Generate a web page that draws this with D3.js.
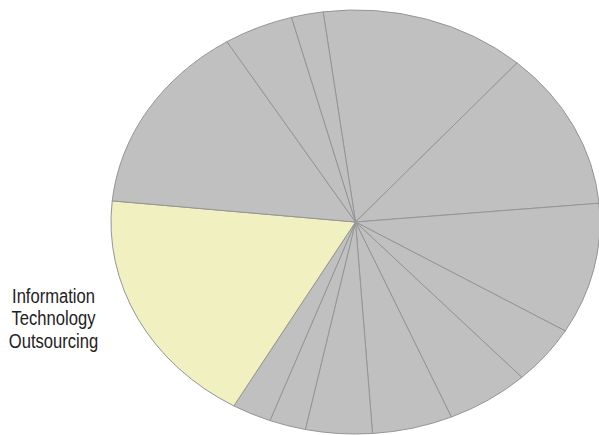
<!DOCTYPE html>
<html>
<head>
<meta charset="utf-8">
<script src="https://cdn.jsdelivr.net/npm/d3@7"></script>
<style>
  html, body { margin: 0; padding: 0; background: #fff; }
  svg { display: block; }
  .label { font-family: "Liberation Sans", Arial, sans-serif; font-size: 21px; fill: #222; }
</style>
</head>
<body>
<script>
// Service categories and their shares (percent), clockwise from the top
const categories = [
  "Segment A", "Segment B", "Segment C", "Segment D", "Segment E",
  "Segment F", "Segment G", "Segment H", "Segment I",
  "Information Technology Outsourcing",
  "Segment K", "Segment L", "Segment M"
];
const shares = [13.6, 12.1, 10.0, 4.5, 5.5, 5.3, 4.4, 2.4, 2.6, 18.3, 14.6, 4.6, 2.1];
const highlighted = "Information Technology Outsourcing";
const labelLines = ["Information", "Technology", "Outsourcing"];

const width = 599, height = 435;
const cx = 355.5, cy = 222;
const rx = 244.5, ry = 212;

const svg = d3.select("body").append("svg")
  .attr("width", width).attr("height", height);

const data = categories.map((c, i) => ({ category: c, value: shares[i] }));

const pie = d3.pie()
  .sort(null)
  .value(d => d.value)
  .startAngle(-7.6 * Math.PI / 180)
  .endAngle((360 - 7.6) * Math.PI / 180);

const arc = d3.arc().innerRadius(0).outerRadius(ry);

// Pie stretched horizontally into an ellipse
const g = svg.append("g")
  .attr("transform", `translate(${cx},${cy}) scale(${rx / ry},1)`);

g.selectAll("path")
  .data(pie(data))
  .join("path")
  .attr("d", arc)
  .attr("fill", d => d.data.category === highlighted ? "#f0f0c0" : "#c0c0c0")
  .attr("stroke", "#959595")
  .attr("stroke-width", 1)
  .attr("vector-effect", "non-scaling-stroke");

// Label for the highlighted slice, set in a condensed face
const condense = 0.79;
const labelX = 53.5;
const label = svg.append("g")
  .attr("transform", `translate(${labelX},302.5) scale(${condense},1)`)
  .append("text")
  .attr("class", "label")
  .attr("text-anchor", "middle");

label.selectAll("tspan")
  .data(labelLines)
  .join("tspan")
  .attr("x", 0)
  .attr("dy", (d, i) => i === 0 ? 0 : 23)
  .text(d => d);
</script>
</body>
</html>
